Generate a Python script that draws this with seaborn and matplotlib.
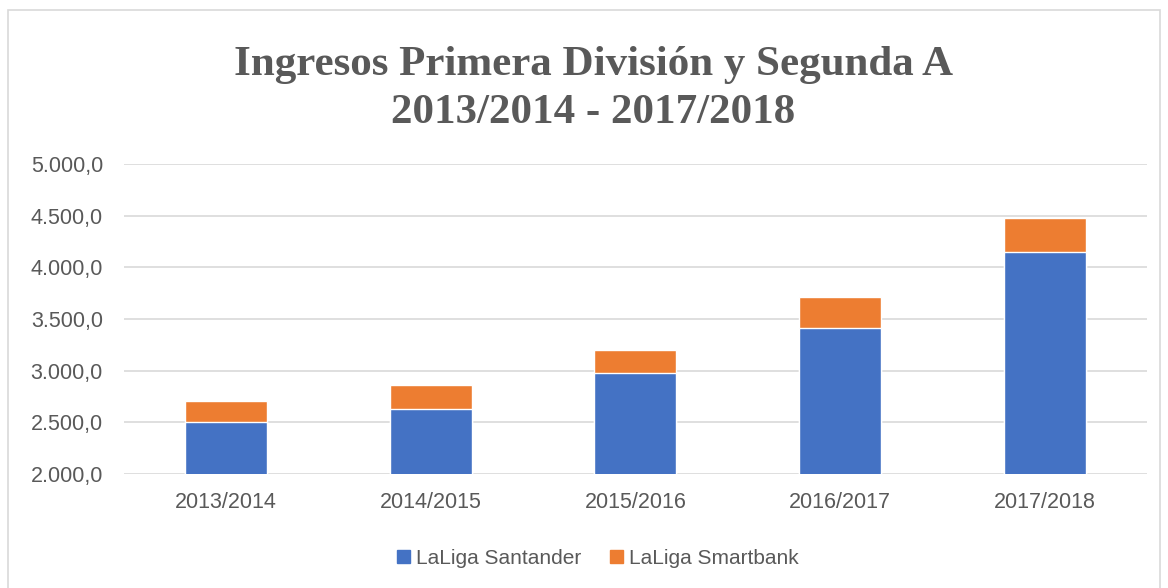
import matplotlib.pyplot as plt
import seaborn as sns
import pandas as pd
from matplotlib.patches import Patch, Rectangle
from matplotlib.ticker import FuncFormatter

seasons = ["2013/2014", "2014/2015", "2015/2016", "2016/2017", "2017/2018"]
santander = [2500, 2632, 2977, 3410, 4149]
smartbank = [210, 230, 223, 303, 332]

BLUE = "#4472C4"
ORANGE = "#ED7D31"
GREY = "#595959"

df = pd.DataFrame({"season": seasons, "santander": santander, "smartbank": smartbank})
df["total"] = df["santander"] + df["smartbank"]

sns.set_theme(style="white")
plt.rcParams["font.family"] = ["Liberation Sans", "DejaVu Sans"]

fig = plt.figure(figsize=(11.68, 5.88), dpi=100)
ax = fig.add_axes([0.106, 0.194, 0.876, 0.527])

# stacked look: totals in orange, santander drawn over them
sns.barplot(data=df, x="season", y="total", color=ORANGE, width=0.4,
            saturation=1, ax=ax, zorder=2)
sns.barplot(data=df, x="season", y="santander", color=BLUE, width=0.4,
            saturation=1, ax=ax, zorder=3)


def es_fmt(v, pos):
    return f"{v:,.1f}".replace(",", "X").replace(".", ",").replace("X", ".")


ax.set_ylim(2000, 5000)
ax.set_yticks(range(2000, 5001, 500))
ax.yaxis.set_major_formatter(FuncFormatter(es_fmt))
ax.grid(axis="y", color="#D9D9D9", linewidth=1.2, zorder=0)
ax.set_axisbelow(True)
for s in ax.spines.values():
    s.set_visible(False)
ax.set_xlabel("")
ax.set_ylabel("")
ax.tick_params(axis="both", length=0, labelsize=15.5, labelcolor=GREY)
ax.tick_params(axis="y", pad=15)
ax.tick_params(axis="x", pad=13)

serif = ["Liberation Serif", "DejaVu Serif"]
fig.text(0.508, 0.872, "Ingresos Primera División y Segunda A", ha="center", va="baseline",
         fontsize=31, fontweight="bold", color=GREY, family=serif)
fig.text(0.508, 0.791, "2013/2014 - 2017/2018", ha="center", va="baseline",
         fontsize=31, fontweight="bold", color=GREY, family=serif)

handles = [Patch(color=BLUE, label="LaLiga Santander"), Patch(color=ORANGE, label="LaLiga Smartbank")]
fig.legend(handles=handles, loc="center", bbox_to_anchor=(0.512, 0.051), ncol=2, frameon=False,
           fontsize=15, labelcolor=GREY, handlelength=0.6, handleheight=0.6,
           handletextpad=0.3, columnspacing=1.4)

fig.patches.append(Rectangle((0.007, -0.05), 0.986, 1.033, transform=fig.transFigure,
                             fill=False, edgecolor="#D9D9D9", linewidth=1.2))

fig.savefig("out.png", dpi=100)
